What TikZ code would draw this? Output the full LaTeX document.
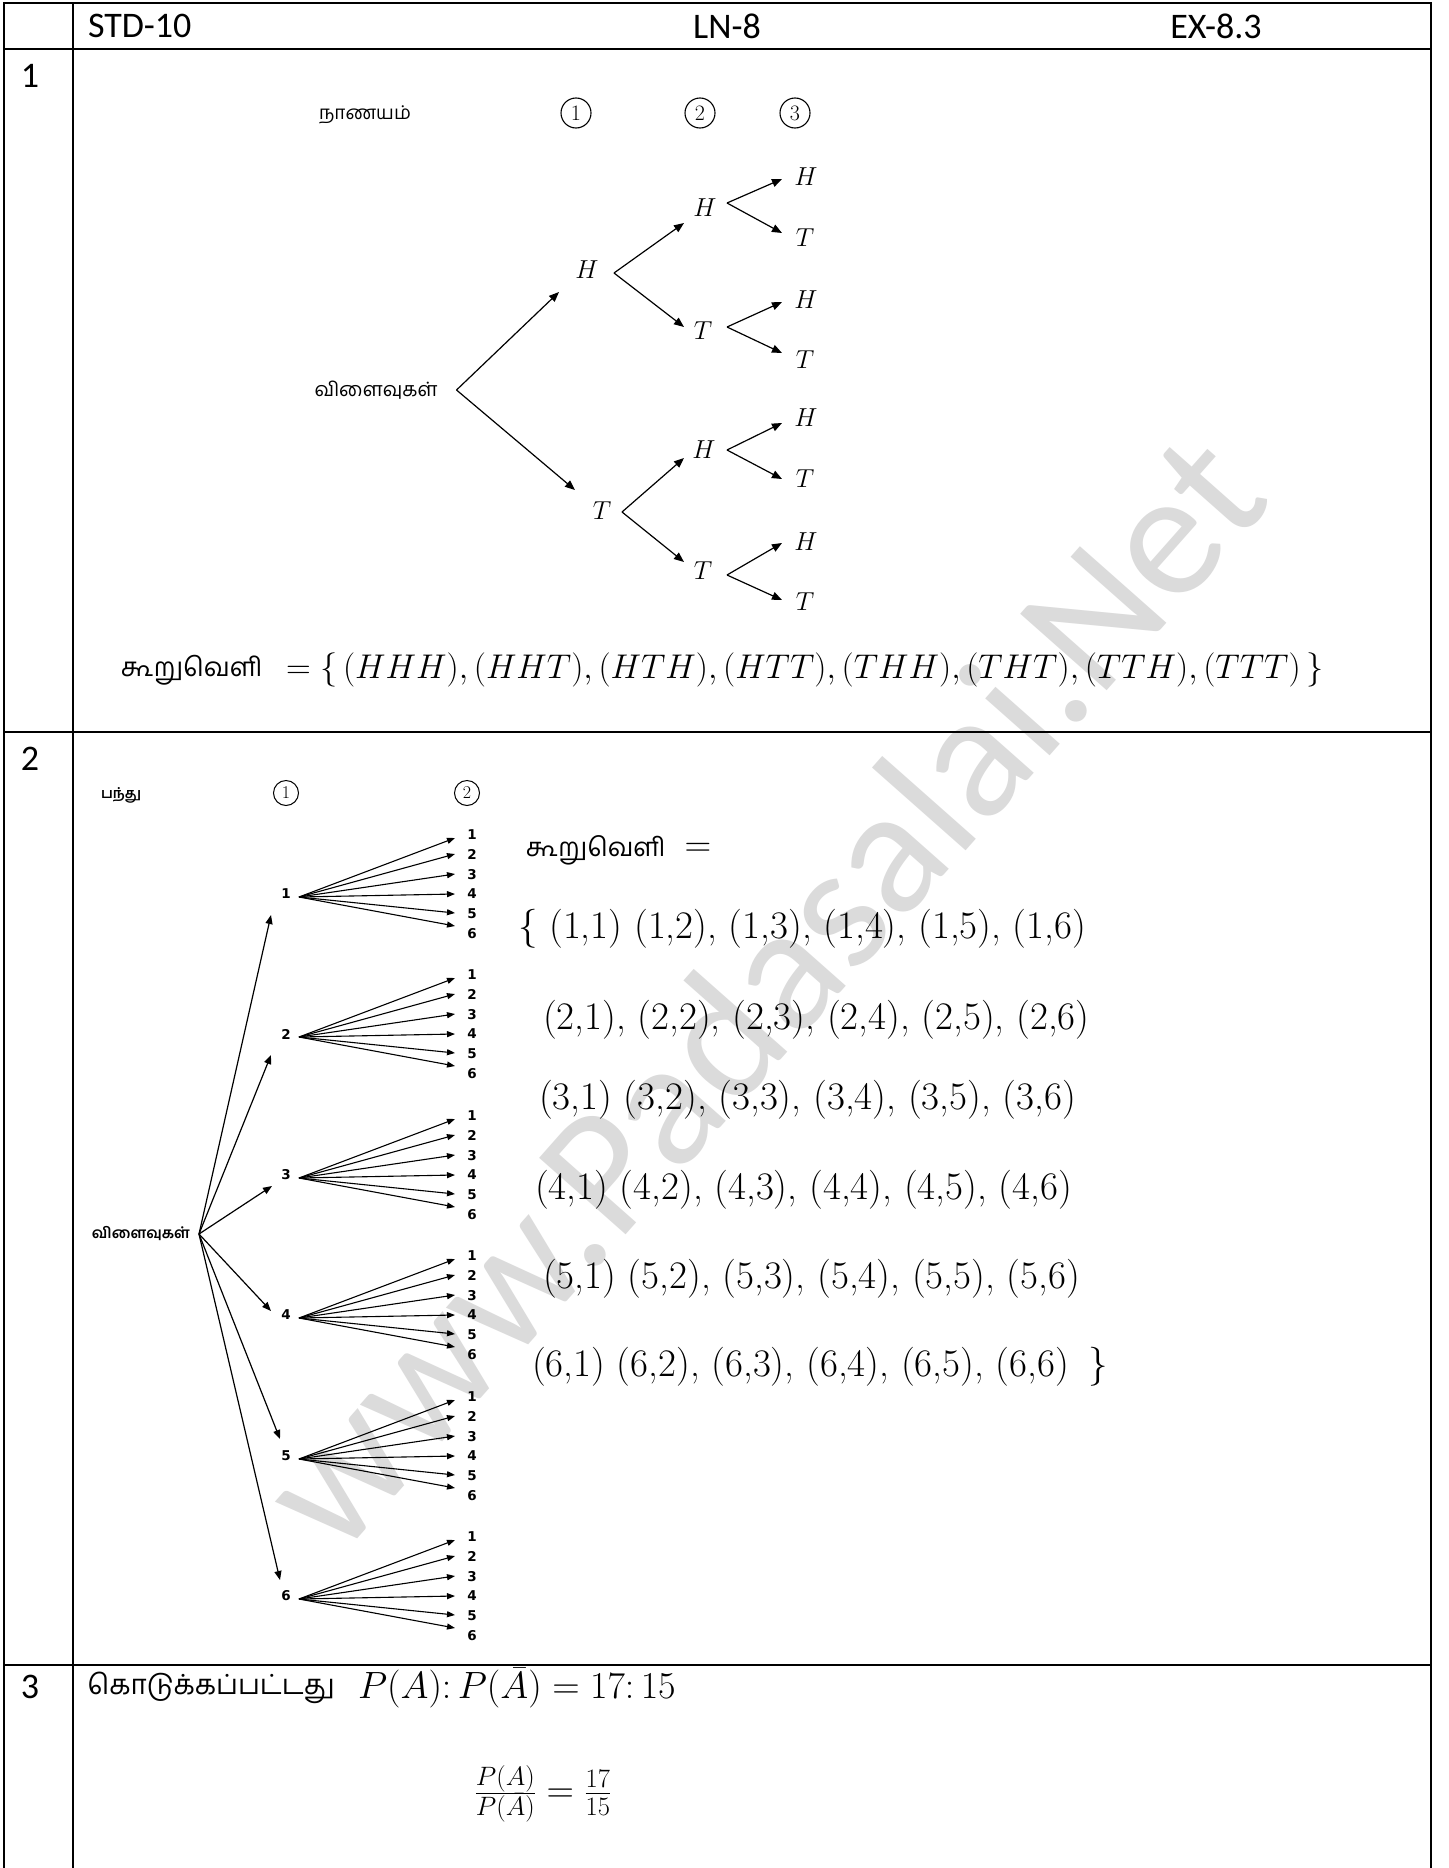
\RequirePackage{fix-cm}
\documentclass[tikz,border=0pt]{standalone}
\usepackage{fontspec}
\usepackage{graphicx}
\usetikzlibrary{arrows.meta}
\newfontfamily\hdrfont{Carlito}
\newfontfamily\tamfont[Script=Tamil]{Hind Madurai}
\newfontfamily\djfont{DejaVu Sans}
\newfontfamily\wmfont{Carlito}
\newcommand{\tamw}[2]{\resizebox{#1pt}{!}{\tamfont #2}}
\newcommand{\tamwb}[2]{\resizebox{#1pt}{!}{\tamfont\bfseries #2}}
\begin{document}
\begin{tikzpicture}[x=1pt,y=-1pt,
  every node/.style={inner sep=0pt, outer sep=0pt},
  frame/.style={line width=2.6pt},
  hdr/.style={font=\fontsize{36}{36}\selectfont\hdrfont},
  coin/.style={font=\fontsize{26}{26}\selectfont},
  circ/.style={draw, circle, line width=1.1pt, minimum size=30pt, font=\fontsize{22}{22}\selectfont},
  circs/.style={draw, circle, line width=1pt, minimum size=25pt, font=\fontsize{18}{18}\selectfont},
  arrA/.style={line width=1.2pt,-{Triangle[length=10pt,width=8pt]}},
  arrB/.style={line width=1.2pt,-{Triangle[length=9pt,width=7pt]}},
  arrC/.style={line width=1.1pt,-{Triangle[length=8pt,width=6pt]}},
  dig/.style={font=\fontsize{13.5}{13.5}\selectfont\djfont\bfseries},
  tup/.style={font=\fontsize{39}{39}\selectfont, anchor=west},
]
\useasboundingbox (0,0) rectangle (1448,1868);
\fill[white] (0,0) rectangle (1448,1868);

% watermark
\node[rotate=48.5, text=black!14, font=\fontsize{180}{180}\selectfont\wmfont] (wm) at (760,990) {www.Padasalai.Net};

% table frame
\draw[frame] (4,1868) -- (4,3) -- (1431,3) -- (1431,1868);
\draw[frame] (73,3) -- (73,1868);
\draw[frame] (4,49) -- (1431,49);
\draw[frame] (4,732) -- (1431,732);
\draw[frame] (4,1665) -- (1431,1665);

% header
\node[hdr, anchor=west] (std) at (88,26) {STD-10};
\node[hdr] (ln) at (727,26) {LN-8};
\node[hdr] (ex) at (1216,26) {EX-8.3};
\node[hdr] (q1) at (30,76) {1};
\node[hdr] (q2) at (30,759) {2};
\node[hdr] (q3) at (30,1687) {3};

% ===== row 1 =====
\node (coinlbl) at (365,115) {\tamw{92}{நாணயம்}};
\node[circ] (c1) at (576,113) {1};
\node[circ] (c2) at (700,113) {2};
\node[circ] (c3) at (795,113) {3};

\node (r1) at (376,390) {\tamw{123}{விளைவுகள்}};
\node[coin] (h1) at (587,270) {$H$};
\node[coin] (t1) at (602,511) {$T$};
\draw[arrA] ([xshift=19]r1.east) -- ([shift={(-28,22)}]h1.center);
\draw[arrA] ([xshift=19]r1.east) -- ([shift={(-27,-21)}]t1.center);

\node[coin] (a) at (705,208) {$H$};
\node[coin] (b) at (703,331) {$T$};
\node[coin] (c) at (704,450) {$H$};
\node[coin] (d) at (703,571) {$T$};
\draw[arrA] ([shift={(27,3)}]h1.center) -- ([shift={(-21,15)}]a.center);
\draw[arrA] ([shift={(27,3)}]h1.center) -- ([shift={(-19,-4)}]b.center);
\draw[arrA] ([shift={(20,1)}]t1.center) -- ([shift={(-20,8)}]c.center);
\draw[arrA] ([shift={(20,1)}]t1.center) -- ([shift={(-19,-9)}]d.center);

\foreach \p/\px/\py/\vy/\hy/\ty/\ehy/\ety in
  {a/705/208/203/177/238/179/233, b/703/331/327/300/360/302/353,
   c/704/450/450/418/479/423/479, d/703/571/575/542/602/543/600} {
  \node[coin] (\p H) at (806,\hy) {$H$};
  \node[coin] (\p T) at (805,\ty) {$T$};
  \draw[arrA] ([shift={(727-\px,\vy-\py)}]\p.center) -- ([shift={(-24,\ehy-\hy)}]\p H.center);
  \draw[arrA] ([shift={(727-\px,\vy-\py)}]\p.center) -- ([shift={(-23,\ety-\ty)}]\p T.center);
}

\node (ss1) at (192,670) {\tamw{142}{கூறுவெளி}};
\node[anchor=west, font=\fontsize{34.3}{34.3}\selectfont] (set1) at (286,670)
  {$= \{\,(HHH), (HHT), (HTH), (HTT), (THH), (THT), (TTH), (TTT)\,\}$};

% ===== row 2 =====
\node (balllbl) at (121,795) {\tamwb{40}{பந்து}};
\node[circs] (d1) at (286,793) {1};
\node[circs] (d2) at (467,793) {2};
\node (r2) at (141,1234) {\tamwb{98}{விளைவுகள்}};

\foreach \i/\y/\ex/\ey in {1/894/-15/21, 2/1034/-15/21, 3/1175/-14/11, 4/1315/-15/-4, 5/1456/-6/-17, 6/1596/-6/-16} {
  \node[dig] (n\i) at (286,\y) {\i};
  \draw[arrB] ([xshift=9]r2.east) -- ([shift={(\ex,\ey)}]n\i.center);
  \foreach \j/\ly/\ay in {1/-59/-56, 2/-39.5/-40, 3/-19.5/-20, 4/0/0, 5/20/19, 6/39.5/32} {
    \node[dig] (m\i\j) at (472,\y+\ly) {\j};
    \draw[arrC] ([shift={(13,3)}]n\i.center) -- ([shift={(-17,\ay-\ly)}]m\i\j.center);
  }
}

\node (ss2) at (596,850) {\tamw{140}{கூறுவெளி}};
\node[font=\fontsize{37}{37}\selectfont] (eq2) at (698,850) {$=$};
\node[tup] (l1) at (518,929) {\{ (1,1) (1,2), (1,3), (1,4), (1,5), (1,6)};
\node[tup] (l2) at (543,1020) {(2,1), (2,2), (2,3), (2,4), (2,5), (2,6)};
\node[tup] (l3) at (539,1100) {(3,1) (3,2), (3,3), (3,4), (3,5), (3,6)};
\node[tup] (l4) at (535,1190) {(4,1) (4,2), (4,3), (4,4), (4,5), (4,6)};
\node[tup] (l5) at (543,1279) {(5,1) (5,2), (5,3), (5,4), (5,5), (5,6)};
\node[tup] (l6) at (532,1367) {(6,1) (6,2), (6,3), (6,4), (6,5), (6,6)\enspace\}};

% ===== row 3 =====
\node (giv) at (211,1688) {\tamw{247}{கொடுக்கப்பட்டது}};
\node[anchor=west, font=\fontsize{38}{38}\selectfont] (rat) at (358,1688)
  {$P(A){:}\,P(\bar{A}) = 17{:}\,15$};
\node[font=\fontsize{38}{38}\selectfont] (fr) at (543,1794)
  {$\frac{P(A)}{P(\bar{A})} = \frac{17}{15}$};
\end{tikzpicture}
\end{document}
